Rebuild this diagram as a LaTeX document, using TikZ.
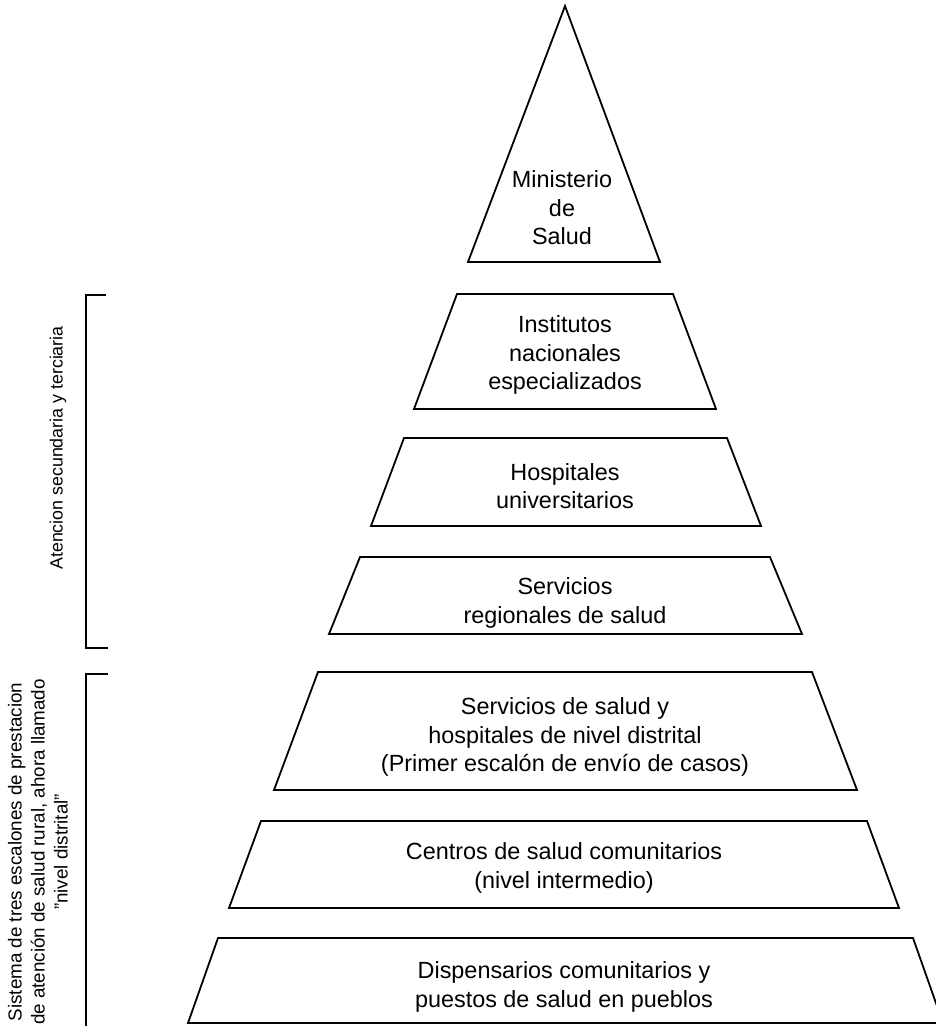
\documentclass[tikz,border=0pt]{standalone}
\usepackage{fontspec}
\setmainfont{Liberation Sans}
\begin{document}
\begin{tikzpicture}[x=1pt,y=-1pt,
  tier/.style={draw, line width=1.8pt, line join=miter},
  brk/.style={draw, line width=1.8pt},
  lbl/.style={align=center, font=\fontsize{23.4}{28.5}\selectfont, inner sep=0pt},
  side/.style={align=center, rotate=90, inner sep=0pt}]
\useasboundingbox (0,0) rectangle (936,1026);
\clip (0,0) rectangle (936,1026);
% pyramid tiers
\draw[tier] (565,6) -- (660,262) -- (468,262) -- cycle;
\draw[tier] (457,294) -- (673,294) -- (716,409) -- (414,409) -- cycle;
\draw[tier] (404,438) -- (727,438) -- (761,526) -- (371,526) -- cycle;
\draw[tier] (360,557) -- (770,557) -- (802,634) -- (329,634) -- cycle;
\draw[tier] (318,672) -- (812,672) -- (857,790) -- (274,790) -- cycle;
\draw[tier] (261,821) -- (867,821) -- (899,908) -- (229,908) -- cycle;
\draw[tier] (218,938) -- (913,938) -- (943,1023) -- (188,1023) -- cycle;
% labels
\node[lbl] (min) at (562,208) {Ministerio\\de\\Salud};
\node[lbl] (inst) at (565,355) {Institutos\\nacionales\\especializados};
\node[lbl] (hosp) at (565,486) {Hospitales\\universitarios};
\node[lbl] (reg) at (565,603) {Servicios\\regionales de salud};
\node[lbl] (dist) at (565,737) {Servicios de salud y\\hospitales de nivel distrital\\(Primer escalón de envío de casos)};
\node[lbl] (cent) at (564,868) {Centros de salud comunitarios\\(nivel intermedio)};
\node[lbl] (disp) at (564,987) {Dispensarios comunitarios y\\puestos de salud en pueblos};
% brackets
\draw[brk] (106,295) -| (86,648) -- (108,648);
\draw[brk] (108,674) -| (86,1030);
% side texts
\node[side, font=\fontsize{17.8}{21}\selectfont] (sec) at (58,448) {Atencion secundaria y terciaria};
\node[side, font=\fontsize{18.8}{23}\selectfont] (rural) at (38,852) {Sistema de tres escalones de prestacion\\de atención de salud rural, ahora llamado\\"nivel distrital"};
\end{tikzpicture}
\end{document}
